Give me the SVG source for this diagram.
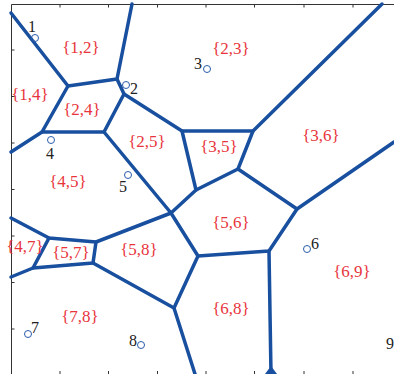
<svg xmlns="http://www.w3.org/2000/svg" width="394" height="374" viewBox="0 0 394 374">
<style>
.ax{stroke:#333;stroke-width:1;fill:none}
.e{stroke:#184f9e;stroke-width:3.5;stroke-linecap:round;stroke-linejoin:round;fill:none}
.pt{fill:none;stroke:#2a5caa;stroke-width:1}
.n{font-family:"Liberation Serif",serif;font-size:16px;fill:#222;text-anchor:middle}
.r{font-family:"Liberation Serif",serif;font-size:17px;fill:#e8353d;text-anchor:middle}
</style>
<rect width="394" height="374" fill="#fff"/>
<g id="axes">
<path class="ax" d="M11.5,374V4.5H394"/>
<path class="ax" d="M60,4.5v3M108.5,4.5v3M157.5,4.5v3M206,4.5v3M254.5,4.5v3M304,4.5v3M353,4.5v3"/>
<path class="ax" d="M60,374v-3M108.5,374v-3M157.5,374v-3M206,374v-3M254.5,374v-3M304,374v-3M353,374v-3"/>
<path class="ax" d="M11.5,50h3M11.5,96.5h3M11.5,143h3M11.5,189.5h3M11.5,236h3M11.5,282.5h3M11.5,329h3"/>
</g>
<g id="connectors">
<path class="e" d="M11,13L68,86L117,79L132,4"/>
<path class="e" d="M117,79L124,94L104,132"/>
<path class="e" d="M124,94L182,131L253,131L382,4"/>
<path class="e" d="M68,86L42,132L104,132L171,213"/>
<path class="e" d="M42,132L11,152"/>
<path class="e" d="M182,131L196,190L238,169L253,131"/>
<path class="e" d="M238,169L297,209L394,142"/>
<path class="e" d="M297,209L269,251L198,256"/>
<path class="e" d="M269,251L271,374"/>
<path class="e" d="M196,190L171,213L198,256L174,308L195,374"/>
<path class="e" d="M171,213L96,242L49,238L11,218"/>
<path class="e" d="M96,242L93,263L33,268L49,238"/>
<path class="e" d="M33,268L11,277"/>
<path class="e" d="M93,263L174,308"/>
<path fill="#184f9e" d="M265,374L271,366L277,374Z"/>
</g>
<g id="p1"><circle class="pt" cx="35" cy="38" r="3.5"/><text class="n" x="32" y="32">1</text></g>
<g id="p2"><circle class="pt" cx="126" cy="85" r="3.5"/><text class="n" x="134" y="94">2</text></g>
<g id="p3"><circle class="pt" cx="207" cy="69" r="3.5"/><text class="n" x="198" y="69">3</text></g>
<g id="p4"><circle class="pt" cx="51" cy="140" r="3.5"/><text class="n" x="50" y="159">4</text></g>
<g id="p5"><circle class="pt" cx="128" cy="175" r="3.5"/><text class="n" x="123" y="192">5</text></g>
<g id="p6"><circle class="pt" cx="307" cy="249" r="3.5"/><text class="n" x="315" y="249">6</text></g>
<g id="p7"><circle class="pt" cx="28" cy="334" r="3.5"/><text class="n" x="35" y="333">7</text></g>
<g id="p8"><circle class="pt" cx="141" cy="345" r="3.5"/><text class="n" x="133" y="346">8</text></g>
<g id="p9"><text class="n" x="390" y="349">9</text></g>
<g id="labels">
<text class="r" x="81" y="53">{1,2}</text>
<text class="r" x="30" y="100">{1,4}</text>
<text class="r" x="82" y="115">{2,4}</text>
<text class="r" x="147" y="147">{2,5}</text>
<text class="r" x="68" y="187">{4,5}</text>
<text class="r" x="231" y="54">{2,3}</text>
<text class="r" x="219" y="152">{3,5}</text>
<text class="r" x="321" y="141">{3,6}</text>
<text class="r" x="231" y="228">{5,6}</text>
<text class="r" x="352" y="277">{6,9}</text>
<text class="r" x="231" y="314">{6,8}</text>
<text class="r" x="25" y="252">{4,7}</text>
<text class="r" x="71" y="258">{5,7}</text>
<text class="r" x="139" y="255">{5,8}</text>
<text class="r" x="80" y="322">{7,8}</text>
</g>
</svg>
